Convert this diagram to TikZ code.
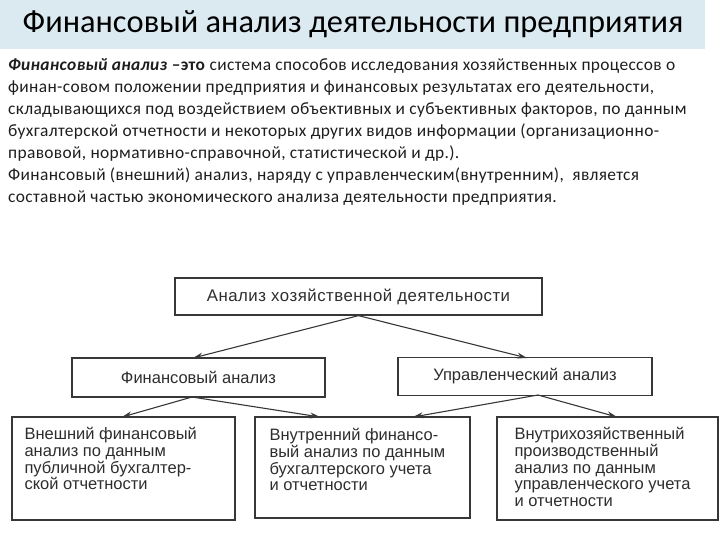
\documentclass[tikz,border=0pt]{standalone}
\usepackage{fontspec}
\setmainfont{Carlito}
\newfontfamily\bodyfont[LetterSpace=2]{Carlito}
\newfontfamily\diafont{Liberation Sans}
\newfontfamily\diafontwide[LetterSpace=3]{Liberation Sans}
\usetikzlibrary{arrows.meta,calc}
\definecolor{titlebg}{RGB}{219,234,241}
\definecolor{bodytxt}{RGB}{30,30,30}
\definecolor{dialine}{RGB}{55,55,55}
\definecolor{diatxt}{RGB}{45,45,45}
\tikzset{
  box/.style={draw=dialine, line width=1.3pt, rectangle, inner sep=0pt},
  boxtxt/.style={text=diatxt, font=\diafont\fontsize{16.5}{16.7}\selectfont, inner sep=0pt},
  bottxt/.style={boxtxt, anchor=north west, align=left},
  conn/.style={draw=dialine, line width=1.1pt, -{Stealth[length=10pt,width=6pt]}},
}
\begin{document}
\begin{tikzpicture}[x=1pt,y=-1pt]
\useasboundingbox (0,0) rectangle (720,540);
% title bar
\fill[titlebg] (0,0) rectangle (705,49);
\node[font=\fontsize{32.4}{36}\selectfont, text=black, inner sep=0pt] (title) at (353,24) {Финансовый анализ деятельности предприятия};
% body text
\node[anchor=north west, align=left, text=bodytxt, inner sep=0pt, font=\bodyfont\fontsize{17.4}{22.1}\selectfont] (body) at (8,58) {%
\textbf{\textit{Финансовый анализ}} \textbf{–это} система способов исследования хозяйственных процессов о\\
финан-совом положении предприятия и финансовых результатах его деятельности,\\
складывающихся под воздействием объективных и субъективных факторов, по данным\\
бухгалтерской отчетности и некоторых других видов информации (организационно-\\
правовой, нормативно-справочной, статистической и др.).\\
Финансовый (внешний) анализ, наряду с управленческим(внутренним),~ является\\
составной частью экономического анализа деятельности предприятия.};
% boxes
\node[box, minimum width=367pt, minimum height=37pt] (b1) at (358.5,296.5) {};
\node[boxtxt, font=\diafontwide\fontsize{16.8}{17}\selectfont] (t1) at (b1.center) {Анализ хозяйственной деятельности};
\node[box, minimum width=253pt, minimum height=39pt] (b2) at (198.5,377.5) {};
\node[boxtxt] (t2) at (b2.center) {Финансовый анализ};
\node[box, minimum width=254pt, minimum height=38pt] (b3) at (525,376.5) {};
\node[boxtxt] (t3) at (b3.center) {Управленческий анализ};
\node[box, minimum width=223pt, minimum height=103pt] (b4) at (123.5,468.5) {};
\node[box, minimum width=215pt, minimum height=101pt] (b5) at (362.5,467.5) {};
\node[box, minimum width=221pt, minimum height=103pt] (b6) at (607.5,468.5) {};
\node[bottxt] (t4) at ($(b4.north west)+(13,11)$) {Внешний финансовый\\анализ по данным\\публичной бухгалтер-\\ской отчетности};
\node[bottxt] (t5) at ($(b5.north west)+(15,12)$) {Внутренний финансо-\\вый анализ по данным\\бухгалтерского учета\\и отчетности};
\node[bottxt] (t6) at ($(b6.north west)+(18,11)$) {Внутрихозяйственный\\производственный\\анализ по данным\\управленческого учета\\и отчетности};
% connectors
\coordinate (p2) at (193,358);
\coordinate (p3) at (527,358);
\coordinate (s2) at (192,397);
\coordinate (s3) at (538,395);
\coordinate (p4) at (122,417);
\coordinate (p5a) at (320,417);
\coordinate (p5b) at (413,417);
\coordinate (p6) at (617,417);
\draw[conn] (b1.south) -- (p2);
\draw[conn] (b1.south) -- (p3);
\draw[conn] (s2) -- (p4);
\draw[conn] (s2) -- (p5a);
\draw[conn] (s3) -- (p5b);
\draw[conn] (s3) -- (p6);
\end{tikzpicture}
\end{document}
